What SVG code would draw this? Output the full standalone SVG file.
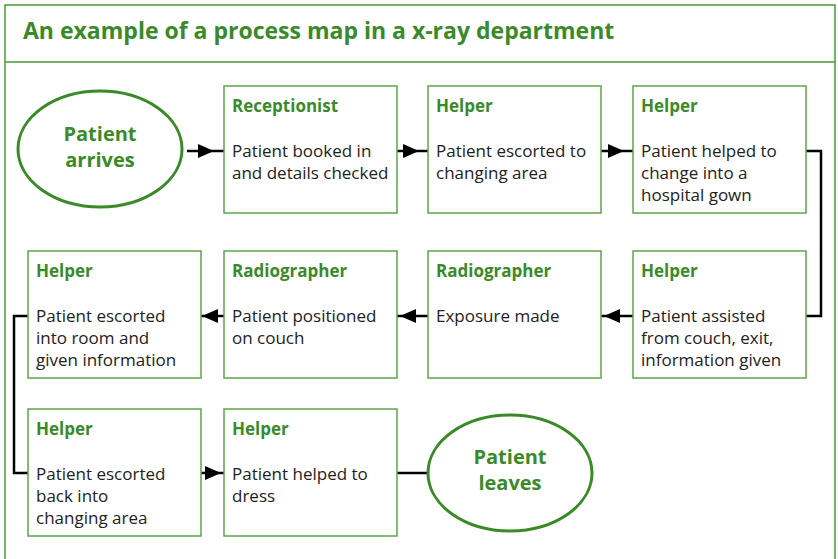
<svg xmlns="http://www.w3.org/2000/svg" width="838" height="559" viewBox="0 0 838 559">
<style>
.frame{fill:none;stroke:#4a9a3a;stroke-width:1.5}
.box{fill:#fff;stroke:#5aa64a;stroke-width:1.5}
.ell{fill:#fff;stroke:#3a8a28;stroke-width:3}
.hd{font-family:"Open Sans","Liberation Sans",sans-serif;font-weight:bold;font-size:17px;fill:#3a8a2a}
.tx{font-family:"Open Sans","Liberation Sans",sans-serif;font-size:17px;fill:#222}
.et{font-family:"Open Sans","Liberation Sans",sans-serif;font-weight:bold;font-size:20px;fill:#3a8a2a;text-anchor:middle}
.title{font-family:"Open Sans","Liberation Sans",sans-serif;font-weight:bold;font-size:23px;fill:#3a8a2a}
.ln{fill:none;stroke:#000;stroke-width:2.5}
.ah{fill:#000}
</style>
<rect width="838" height="559" fill="#fff"/>
<path class="frame" d="M5,565 V5 H835 V565 M5,62 H835"/>
<text class="title" x="23" y="39">An example of a process map in a x-ray department</text>

<g id="connectors">
<path class="ln" d="M187,151 H224"/><polygon class="ah" points="198,144 214,151 198,158"/>
<path class="ln" d="M397,151 H428"/><polygon class="ah" points="403,144 419,151 403,158"/>
<path class="ln" d="M601,151 H633"/><polygon class="ah" points="608,144 624,151 608,158"/>
<path class="ln" d="M806,151 H821 V316 H806"/>
<path class="ln" d="M633,316 H601"/><polygon class="ah" points="620,309 604,316 620,323"/>
<path class="ln" d="M428,316 H397"/><polygon class="ah" points="416,309 400,316 416,323"/>
<path class="ln" d="M224,316 H201"/><polygon class="ah" points="218,309 202,316 218,323"/>
<path class="ln" d="M28,316 H14 V473 H28"/>
<path class="ln" d="M201,473 H224"/><polygon class="ah" points="205,466 221,473 205,480"/>
<path class="ln" d="M397,473 H428"/>
</g>

<g id="n_arrives"><ellipse class="ell" cx="100" cy="149" rx="82" ry="58"/>
<text class="et" x="100" y="141">Patient</text><text class="et" x="100" y="167">arrives</text></g>

<g id="n_reception"><rect class="box" x="224" y="86" width="173" height="127"/>
<text class="hd" x="232" y="112">Receptionist</text>
<text class="tx" x="232" y="157">Patient booked in</text><text class="tx" x="232" y="179">and details checked</text></g>

<g id="n_escort"><rect class="box" x="428" y="86" width="173" height="127"/>
<text class="hd" x="436" y="112">Helper</text>
<text class="tx" x="436" y="157">Patient escorted to</text><text class="tx" x="436" y="179">changing area</text></g>

<g id="n_gown"><rect class="box" x="633" y="86" width="173" height="127"/>
<text class="hd" x="641" y="112">Helper</text>
<text class="tx" x="641" y="157">Patient helped to</text><text class="tx" x="641" y="179">change into a</text><text class="tx" x="641" y="201">hospital gown</text></g>

<g id="n_room"><rect class="box" x="28" y="251" width="173" height="127"/>
<text class="hd" x="36" y="277">Helper</text>
<text class="tx" x="36" y="322">Patient escorted</text><text class="tx" x="36" y="344">into room and</text><text class="tx" x="36" y="366">given information</text></g>

<g id="n_position"><rect class="box" x="224" y="251" width="173" height="127"/>
<text class="hd" x="232" y="277">Radiographer</text>
<text class="tx" x="232" y="322">Patient positioned</text><text class="tx" x="232" y="344">on couch</text></g>

<g id="n_exposure"><rect class="box" x="428" y="251" width="173" height="127"/>
<text class="hd" x="436" y="277">Radiographer</text>
<text class="tx" x="436" y="322">Exposure made</text></g>

<g id="n_assist"><rect class="box" x="633" y="251" width="173" height="127"/>
<text class="hd" x="641" y="277">Helper</text>
<text class="tx" x="641" y="322">Patient assisted</text><text class="tx" x="641" y="344">from couch, exit,</text><text class="tx" x="641" y="366">information given</text></g>

<g id="n_back"><rect class="box" x="28" y="409" width="173" height="127"/>
<text class="hd" x="36" y="435">Helper</text>
<text class="tx" x="36" y="480">Patient escorted</text><text class="tx" x="36" y="502">back into</text><text class="tx" x="36" y="524">changing area</text></g>

<g id="n_dress"><rect class="box" x="224" y="409" width="173" height="127"/>
<text class="hd" x="232" y="435">Helper</text>
<text class="tx" x="232" y="480">Patient helped to</text><text class="tx" x="232" y="502">dress</text></g>

<g id="n_leaves"><ellipse class="ell" cx="510" cy="473" rx="82" ry="58"/>
<text class="et" x="510" y="464">Patient</text><text class="et" x="510" y="490">leaves</text></g>
</svg>
